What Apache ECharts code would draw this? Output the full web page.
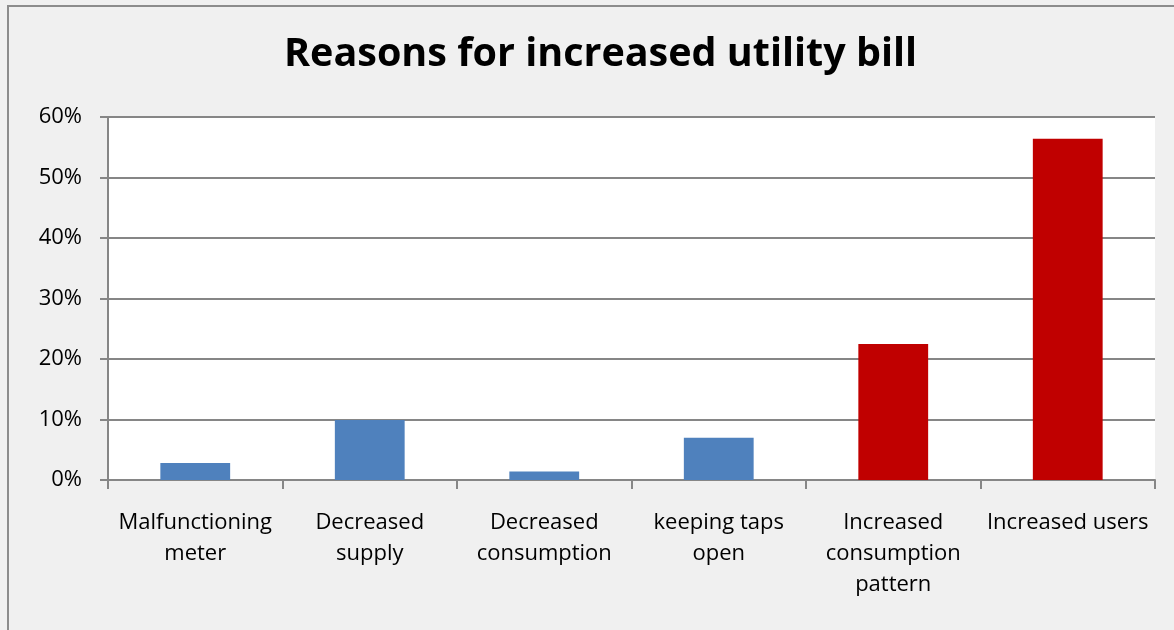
<!DOCTYPE html>
<html>
<head>
<meta charset="utf-8">
<script src="https://cdn.jsdelivr.net/npm/echarts@6/dist/echarts.min.js"></script>
<style>html,body{margin:0;padding:0;background:#f0f0f0;}#c{width:1174px;height:630px;}</style>
</head>
<body>
<div id="c"></div>
<script>
const titleText = 'Reasons for increased utility bill';
const categories = ['Malfunctioning meter', 'Decreased supply', 'Decreased consumption', 'keeping taps open', 'Increased consumption pattern', 'Increased users'];
const categoryLabels = ['Malfunctioning\nmeter', 'Decreased\nsupply', 'Decreased\nconsumption', 'keeping taps\nopen', 'Increased\nconsumption\npattern', 'Increased users'];
const values = [2.8, 9.9, 1.4, 7.0, 22.5, 56.4];
const barColors = ['#4f81bd', '#4f81bd', '#4f81bd', '#4f81bd', '#c00000', '#c00000'];
const yTicks = [0, 10, 20, 30, 40, 50, 60];

const chart = echarts.init(document.getElementById('c'), null, {renderer: 'canvas'});
const fontFam = '"Open Sans", "Noto Sans", sans-serif';
chart.setOption({
  backgroundColor: '#f0f0f0',
  animation: false,
  title: {
    text: titleText, left: 279, top: 30,
    textStyle: {fontFamily: fontFam, fontWeight: 'bold', fontSize: 39.5, color: '#000'}
  },
  graphic: [{
    type: 'rect', silent: true, z: -1,
    shape: {x: 8, y: 6, width: 1180, height: 640},
    style: {fill: 'none', stroke: '#8c8c8c', lineWidth: 2}
  }],
  grid: {left: 108, right: 19, top: 117, bottom: 150, backgroundColor: '#ffffff', show: true, borderWidth: 0},
  xAxis: {
    type: 'category',
    data: categories,
    axisLine: {lineStyle: {color: '#868686', width: 2}},
    axisTick: {show: true, length: 9, lineStyle: {color: '#868686', width: 2}},
    axisLabel: {
      interval: 0, margin: 27, lineHeight: 31,
      fontFamily: fontFam, fontSize: 22, color: '#000',
      formatter: (v, i) => categoryLabels[i]
    }
  },
  yAxis: {
    type: 'value', min: yTicks[0], max: yTicks[yTicks.length - 1], interval: 10,
    axisLine: {show: true, lineStyle: {color: '#868686', width: 2}},
    axisTick: {show: true, length: 8, lineStyle: {color: '#868686', width: 2}},
    splitLine: {lineStyle: {color: '#868686', width: 2}},
    axisLabel: {margin: 26, fontFamily: fontFam, fontSize: 22, color: '#000', formatter: v => v + '%'}
  },
  series: [{
    type: 'bar',
    barWidth: '40%',
    data: values.map((v, i) => ({value: v, itemStyle: {color: barColors[i]}}))
  }]
});
</script>
</body>
</html>
